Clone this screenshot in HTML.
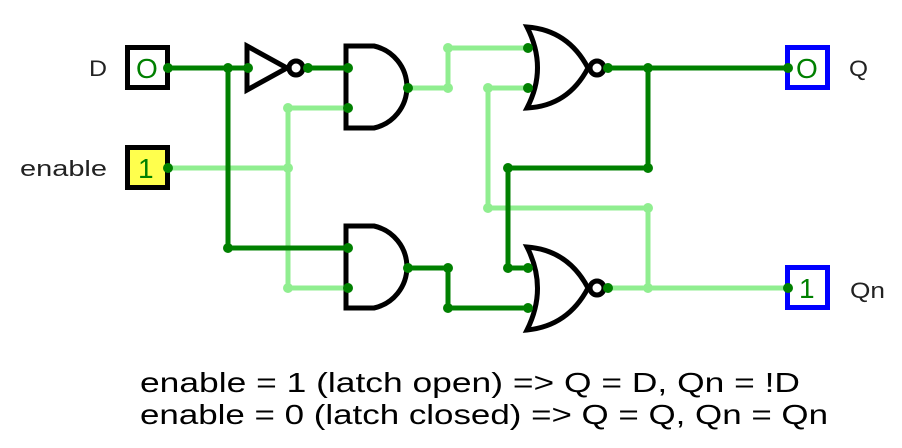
<!DOCTYPE html>
<html><head><meta charset="utf-8"><style>body{margin:0;background:#fff}svg{display:block}text{font-family:"Liberation Sans",sans-serif}</style></head><body>
<svg width="902" height="448" viewBox="0 0 902 448" xmlns="http://www.w3.org/2000/svg">
<g fill="none" stroke-width="5" stroke-linejoin="miter">
<g stroke="#90ee90">
<path d="M168 168H288M288 108V288M288 108H348M288 288H348"/>
<path d="M408 88H448V48H528"/>
<path d="M488 88H528M488 88V208H648V288"/>
<path d="M608 288H788"/>
</g>
<g stroke="#008000">
<path d="M168 68H248M228 68V248H348"/>
<path d="M308 68H348"/>
<path d="M408 268H448V308H528"/>
<path d="M608 68H788M648 68V168H508V268H528"/>
</g>
</g>
<g fill="none" stroke="#000" stroke-width="5">
<path d="M247 46L287 68L247 90Z"/>
<circle cx="296" cy="68" r="7"/>
<path d="M346 46H374A42 42 0 0 1 374 128H346Z"/>
<path d="M346 226H374A42 42 0 0 1 374 308H346Z"/>
<path d="M527 27Q568 30 588 68Q568 106 527 108Q548 68 527 27Z"/>
<circle cx="597" cy="68" r="7"/>
<path d="M527 247Q568 250 588 288Q568 326 527 330Q548 288 527 247Z"/>
<circle cx="597" cy="288" r="7"/>
</g>
<rect x="127.5" y="47.5" width="40" height="40" fill="#fff" stroke="#000" stroke-width="5"/>
<rect x="127.5" y="147.5" width="40" height="40" fill="#ffff4d" stroke="#000" stroke-width="5"/>
<rect x="787.5" y="47.5" width="40" height="40" fill="#fff" stroke="#0000ff" stroke-width="5"/>
<rect x="787.5" y="267.5" width="40" height="40" fill="#fff" stroke="#0000ff" stroke-width="5"/>
<g fill="#008000" font-size="28">
<text x="136" y="78">O</text><text x="138" y="178">1</text>
<text x="796" y="78">O</text><text x="799" y="298">1</text>
</g>
<g fill="#008000">
<circle cx="168" cy="68" r="5"/><circle cx="228" cy="68" r="5"/><circle cx="248" cy="68" r="5"/><circle cx="308" cy="68" r="5"/>
<circle cx="348" cy="68" r="5"/><circle cx="348" cy="108" r="5"/><circle cx="408" cy="88" r="5"/>
<circle cx="168" cy="168" r="5"/><circle cx="228" cy="248" r="5"/><circle cx="348" cy="248" r="5"/><circle cx="348" cy="288" r="5"/>
<circle cx="408" cy="268" r="5"/><circle cx="448" cy="268" r="5"/><circle cx="448" cy="308" r="5"/>
<circle cx="528" cy="48" r="5"/><circle cx="528" cy="88" r="5"/><circle cx="528" cy="268" r="5"/><circle cx="528" cy="308" r="5"/><circle cx="508" cy="268" r="5"/>
<circle cx="608" cy="68" r="5"/><circle cx="648" cy="68" r="5"/><circle cx="648" cy="168" r="5"/><circle cx="508" cy="168" r="5"/>
<circle cx="608" cy="288" r="5"/><circle cx="788" cy="68" r="5"/><circle cx="788" cy="288" r="5"/>
</g>
<g fill="#90ee90">
<circle cx="288" cy="108" r="5"/><circle cx="288" cy="168" r="5"/><circle cx="288" cy="288" r="5"/>
<circle cx="448" cy="88" r="5"/><circle cx="448" cy="48" r="5"/><circle cx="488" cy="88" r="5"/><circle cx="488" cy="208" r="5"/>
<circle cx="648" cy="208" r="5"/><circle cx="648" cy="288" r="5"/>
</g>
<g fill="#222" font-size="22">
<text x="89" y="76" textLength="18" lengthAdjust="spacingAndGlyphs">D</text>
<text x="20" y="176" textLength="87" lengthAdjust="spacingAndGlyphs">enable</text>
<text x="849" y="76" textLength="19" lengthAdjust="spacingAndGlyphs">Q</text>
<text x="850" y="298" textLength="35" lengthAdjust="spacingAndGlyphs">Qn</text>
</g>
<g fill="#000" font-size="28">
<text x="140" y="392" textLength="660" lengthAdjust="spacingAndGlyphs">enable = 1 (latch open) =&gt; Q = D, Qn = !D</text>
<text x="140" y="424" textLength="688" lengthAdjust="spacingAndGlyphs">enable = 0 (latch closed) =&gt; Q = Q, Qn = Qn</text>
</g>
</svg>
</body></html>
